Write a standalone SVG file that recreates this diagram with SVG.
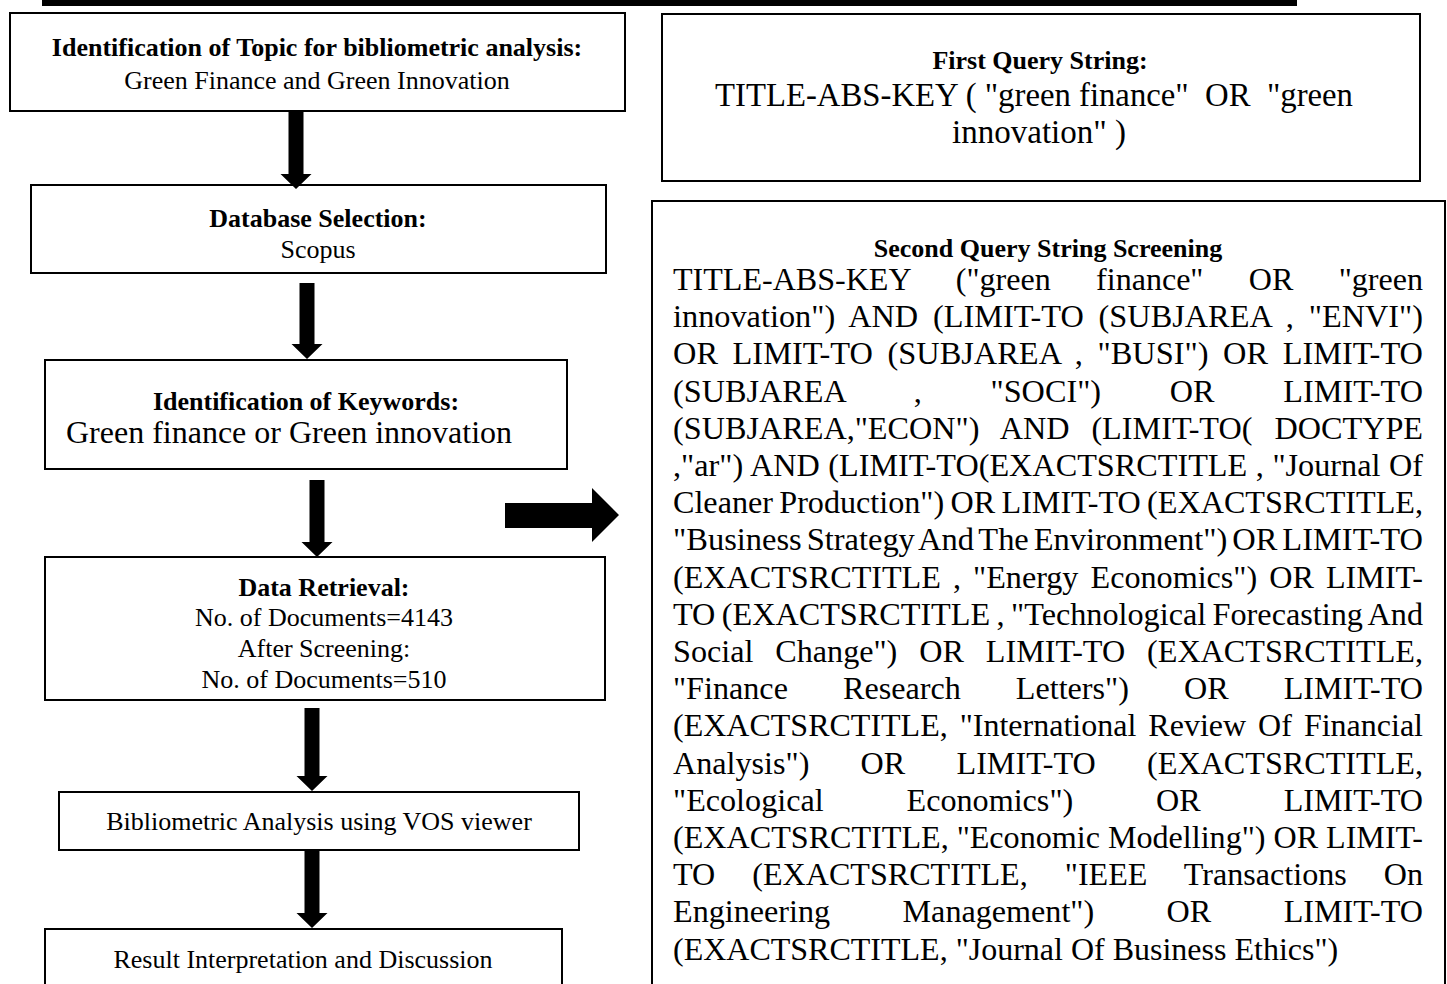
<svg xmlns="http://www.w3.org/2000/svg" width="1447" height="984" viewBox="0 0 1447 984">
<style>
.box{fill:#fff;stroke:#000;stroke-width:2}
.t{font-family:"Liberation Serif","Times New Roman",serif;fill:#000}
.b{font-weight:bold}
.c{text-anchor:middle}
.s26{font-size:26px}
.q{font-size:32px}
.arr{fill:#000;stroke:none}
</style>
<rect width="1447" height="984" fill="#fff"/>
<rect x="42" y="0" width="1255" height="6" fill="#000"/>

<g id="node-topic">
<rect class="box" x="10" y="13" width="615" height="98"/>
<text class="t b c s26" x="317" y="56">Identification of Topic for bibliometric analysis:</text>
<text class="t c s26" x="317" y="89">Green Finance and Green Innovation</text>
</g>
<g id="node-database">
<rect class="box" x="31" y="185" width="575" height="88"/>
<text class="t b c s26" x="318" y="227">Database Selection:</text>
<text class="t c s26" x="318" y="258">Scopus</text>
</g>
<g id="node-keywords">
<rect class="box" x="45" y="360" width="522" height="109"/>
<text class="t b c s26" x="306" y="410">Identification of Keywords:</text>
<text class="t c" style="font-size:32px" x="289" y="443">Green finance or Green innovation</text>
</g>
<g id="node-retrieval">
<rect class="box" x="45" y="557" width="560" height="143"/>
<text class="t b c s26" x="324" y="596">Data Retrieval:</text>
<text class="t c s26" x="324" y="626">No. of Documents=4143</text>
<text class="t c s26" x="324" y="657">After Screening:</text>
<text class="t c s26" x="324" y="688">No. of Documents=510</text>
</g>
<g id="node-analysis">
<rect class="box" x="59" y="792" width="520" height="58"/>
<text class="t c s26" x="319" y="830">Bibliometric Analysis using VOS viewer</text>
</g>
<g id="node-result">
<rect class="box" x="45" y="929" width="517" height="80"/>
<text class="t c s26" x="303" y="968">Result Interpretation and Discussion</text>
</g>

<g id="node-first-query">
<rect class="box" x="662" y="14" width="758" height="167"/>
<text class="t b c s26" x="1040" y="69">First Query String:</text>
<text class="t" style="font-size:33px" x="715" y="106" textLength="638" lengthAdjust="spacingAndGlyphs" xml:space="preserve">TITLE-ABS-KEY ( "green finance"  OR  "green</text>
<text class="t c" style="font-size:33px" x="1039" y="143">innovation" )</text>
</g>

<g id="node-second-query">
<rect class="box" x="652" y="201" width="793" height="810"/>
<text class="t b c s26" x="1048" y="257">Second Query String Screening</text>
<g class="t q">
<text x="673" y="290" textLength="750" lengthAdjust="spacingAndGlyphs" style="word-spacing:37.3px">TITLE-ABS-KEY ("green finance" OR "green</text>
<text x="673" y="327.2" textLength="750" lengthAdjust="spacingAndGlyphs" style="word-spacing:6.7px">innovation") AND (LIMIT-TO (SUBJAREA , "ENVI")</text>
<text x="673" y="364.4" textLength="750" lengthAdjust="spacingAndGlyphs" style="word-spacing:6.4px">OR LIMIT-TO (SUBJAREA , "BUSI") OR LIMIT-TO</text>
<text x="673" y="401.6" textLength="750" lengthAdjust="spacingAndGlyphs" style="word-spacing:60.3px">(SUBJAREA , "SOCI") OR LIMIT-TO</text>
<text x="673" y="438.8" textLength="750" lengthAdjust="spacingAndGlyphs" style="word-spacing:13.8px">(SUBJAREA,"ECON") AND (LIMIT-TO( DOCTYPE</text>
<text x="673" y="476" textLength="750" lengthAdjust="spacingAndGlyphs" style="word-spacing:0.5px">,"ar") AND (LIMIT-TO(EXACTSRCTITLE , "Journal Of</text>
<text x="673" y="513.2" textLength="750" lengthAdjust="spacingAndGlyphs" style="word-spacing:-1.7px">Cleaner Production") OR LIMIT-TO (EXACTSRCTITLE,</text>
<text x="673" y="550.4" textLength="750" lengthAdjust="spacingAndGlyphs" style="word-spacing:-3.1px">"Business Strategy And The Environment") OR LIMIT-TO</text>
<text x="673" y="587.6" textLength="750" lengthAdjust="spacingAndGlyphs" style="word-spacing:4px">(EXACTSRCTITLE , "Energy Economics") OR LIMIT-</text>
<text x="673" y="624.8" textLength="750" lengthAdjust="spacingAndGlyphs" style="word-spacing:-1.6px">TO (EXACTSRCTITLE , "Technological Forecasting And</text>
<text x="673" y="662" textLength="750" lengthAdjust="spacingAndGlyphs" style="word-spacing:13.8px">Social Change") OR LIMIT-TO (EXACTSRCTITLE,</text>
<text x="673" y="699.2" textLength="750" lengthAdjust="spacingAndGlyphs" style="word-spacing:46.8px">"Finance Research Letters") OR LIMIT-TO</text>
<text x="673" y="736.4" textLength="750" lengthAdjust="spacingAndGlyphs" style="word-spacing:4px">(EXACTSRCTITLE, "International Review Of Financial</text>
<text x="673" y="773.6" textLength="750" lengthAdjust="spacingAndGlyphs" style="word-spacing:43px">Analysis") OR LIMIT-TO (EXACTSRCTITLE,</text>
<text x="673" y="810.8" textLength="750" lengthAdjust="spacingAndGlyphs" style="word-spacing:74.5px">"Ecological Economics") OR LIMIT-TO</text>
<text x="673" y="848" textLength="750" lengthAdjust="spacingAndGlyphs" style="word-spacing:-0.1px">(EXACTSRCTITLE, "Economic Modelling") OR LIMIT-</text>
<text x="673" y="885.2" textLength="750" lengthAdjust="spacingAndGlyphs" style="word-spacing:28.9px">TO (EXACTSRCTITLE, "IEEE Transactions On</text>
<text x="673" y="922.4" textLength="750" lengthAdjust="spacingAndGlyphs" style="word-spacing:64.1px">Engineering Management") OR LIMIT-TO</text>
<text x="673" y="959.6">(EXACTSRCTITLE, "Journal Of Business Ethics")</text>
</g>
</g>

<g id="connectors">
<path class="arr" d="M288.5,111 H303.5 V174 H311.5 L296,189 L280.5,174 H288.5 Z"/>
<path class="arr" d="M299.5,283 H314.5 V344 H322.5 L307,359 L291.5,344 H299.5 Z"/>
<path class="arr" d="M309.5,480 H324.5 V542 H332.5 L317,557 L301.5,542 H309.5 Z"/>
<path class="arr" d="M304.5,708 H319.5 V776 H327.5 L312,791 L296.5,776 H304.5 Z"/>
<path class="arr" d="M304.5,850 H319.5 V913 H327.5 L312,928 L296.5,913 H304.5 Z"/>
<path class="arr" d="M505,503 H592 V488 L619,515 L592,542 V528 H505 Z"/>
</g>
</svg>
